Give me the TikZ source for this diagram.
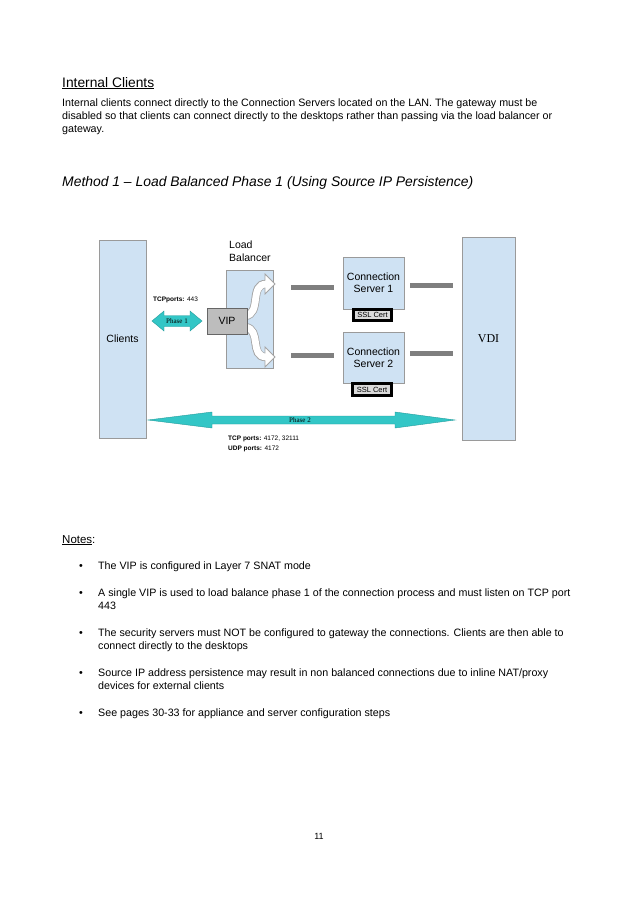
\documentclass[tikz,border=0pt]{standalone}
\usepackage{fontspec}
\setmainfont{Liberation Sans}
\newfontfamily\serifface{Liberation Serif}
\definecolor{boxblue}{HTML}{CFE2F3}
\definecolor{boxedge}{HTML}{9A9A9A}
\definecolor{vipgray}{HTML}{BDBDBD}
\definecolor{teal1}{HTML}{33C6C6}
\definecolor{teal2}{HTML}{239C9C}
\definecolor{bargray}{HTML}{7F7F7F}
\definecolor{sslgray}{HTML}{DADADA}
\tikzset{
  bluebox/.style={draw=boxedge, fill=boxblue, line width=0.8pt, inner sep=0pt},
  bodytext/.style={anchor=base west, inner sep=0pt, font=\fontsize{10.7}{13}\selectfont},
  bar/.style={draw=bargray, line width=5pt},
  sslbox/.style={draw=black, fill=sslgray, line width=2.2pt, inner sep=0pt, font=\fontsize{7.5}{8}\selectfont},
  tealarrow/.style={fill=teal1, draw=teal2, line width=0.4pt},
  band/.style={draw=bargray!70, line width=8.4pt},
  bandin/.style={draw=white, line width=6.8pt},
  bandhead/.style={fill=white, draw=bargray!70, line width=0.8pt, line join=miter},
}
\begin{document}
\begin{tikzpicture}[x=1pt,y=-1pt]
\useasboundingbox (0,0) rectangle (638,903);
\fill[white] (0,0) rectangle (638,903);

% Header text
\node[anchor=base west, inner sep=0pt, font=\fontsize{13.8}{15}\selectfont] (h1) at (62,87) {\underline{Internal Clients}};
\node[bodytext] (p1) at (62,106) {Internal clients connect directly to the Connection Servers located on the LAN. The gateway must be};
\node[bodytext] (p2) at (62,119) {disabled so that clients can connect directly to the desktops rather than passing via the load balancer or};
\node[bodytext] (p3) at (62,132) {gateway.};
\node[anchor=base west, inner sep=0pt, font=\fontsize{13.9}{15}\selectfont\itshape] (h2) at (62,186) {Method 1 -- Load Balanced Phase 1 (Using Source IP Persistence)};

% Diagram boxes
\node[bluebox, minimum width=47pt, minimum height=198pt, font=\fontsize{10.5}{12}\selectfont] (clients) at (122.5,339) {Clients};
\node[bluebox, minimum width=53pt, minimum height=203pt, font=\fontsize{12}{14}\selectfont\serifface] (vdi) at (488.5,338.5) {VDI};
\node[bluebox, minimum width=47pt, minimum height=98pt] (lb) at (250,319) {};
\node[anchor=north west, inner sep=0pt, align=left, font=\fontsize{10.5}{13}\selectfont] (lbl) at (229,241) {Load\\Balancer};

\node[bluebox, minimum width=61pt, minimum height=52pt, align=center, font=\fontsize{10.5}{12}\selectfont] (cs1) at (373.5,283) {Connection\\Server 1};
\node[bluebox, minimum width=61pt, minimum height=51pt, align=center, font=\fontsize{10.5}{12}\selectfont] (cs2) at (373.5,357.5) {Connection\\Server 2};
\node[sslbox, minimum width=38pt, minimum height=11pt] (ssl1) at (372.5,315) {SSL Cert};
\node[sslbox, minimum width=39pt, minimum height=12pt] (ssl2) at (372,389.5) {SSL Cert};

% Gray bars
\draw[bar] (291,287) -- (334,287);
\draw[bar] (291,355) -- (334,355);
\draw[bar] (410,285) -- (453,285);
\draw[bar] (410,353) -- (453,353);

% Curved band arrows in load balancer
\coordinate (ta) at (245,316);
\coordinate (te) at (266,284);
\coordinate (ba) at (245,327);
\coordinate (be) at (266,357);
\draw[band] (ta) .. controls (262,314) and (249,284) .. (te);
\draw[band] (ba) .. controls (262,329) and (249,357) .. (be);
\draw[bandhead] (265,274) -- (275,284) -- (265,294) -- cycle;
\draw[bandhead] (265,347) -- (275,357) -- (265,367) -- cycle;
\draw[bandin] (ta) .. controls (262,314) and (249,284) .. (266.5,284);
\draw[bandin] (ba) .. controls (262,329) and (249,357) .. (266.5,357);

% VIP
\node[draw=gray!80!black, fill=vipgray, line width=0.6pt, minimum width=40pt, minimum height=26pt, inner sep=0pt, font=\fontsize{10.5}{12}\selectfont] (vip) at (227,321) {VIP};

% Phase 1 arrow
\draw[tealarrow] (152,321) -- (164,311) -- (164,315.5) -- (190,315.5) -- (190,311) -- (202,321) -- (190,331) -- (190,326.5) -- (164,326.5) -- (164,331) -- cycle;
\node[inner sep=0pt, font=\fontsize{7}{8}\selectfont\serifface] (ph1) at (177,321) {Phase 1};
\node[anchor=base west, inner sep=0pt, font=\fontsize{6.5}{8}\selectfont] (tcp1) at (153,301) {\textbf{TCPports:} 443};

% Phase 2 arrow
\draw[tealarrow] (148,420) -- (212,412) -- (212,416) -- (395,416) -- (395,412) -- (455,420) -- (395,428) -- (395,424) -- (212,424) -- (212,428) -- cycle;
\node[inner sep=0pt, font=\fontsize{7}{8}\selectfont\serifface] (ph2) at (300,420) {Phase 2};
\node[anchor=base west, inner sep=0pt, font=\fontsize{6.5}{8}\selectfont] (tcp2) at (228,440) {\textbf{TCP ports:} 4172, 32111};
\node[anchor=base west, inner sep=0pt, font=\fontsize{6.5}{8}\selectfont] (udp2) at (228,450) {\textbf{UDP ports:} 4172};

% Notes
\node[anchor=base west, inner sep=0pt, font=\fontsize{11.5}{13}\selectfont] (notes) at (62,543) {\underline{Notes}:};
\foreach \yy/\name in {569/n1,596/n2,636/n3,676/n4,716/n5}{
  \node[anchor=base west, inner sep=0pt, font=\fontsize{10.7}{13}\selectfont] (\name b) at (79,\yy) {•};
}
\node[bodytext] (n1) at (98,569) {The VIP is configured in Layer 7 SNAT mode};
\node[bodytext] (n2) at (98,596) {A single VIP is used to load balance phase 1 of the connection process and must listen on TCP port};
\node[bodytext] (n2b) at (98,609) {443};
\node[bodytext] (n3) at (98,636) {The security servers must NOT be configured to gateway the connections. Clients are then able to};
\node[bodytext] (n3b) at (98,649) {connect directly to the desktops};
\node[bodytext] (n4) at (98,676) {Source IP address persistence may result in non balanced connections due to inline NAT/proxy};
\node[bodytext] (n4b) at (98,689) {devices for external clients};
\node[bodytext] (n5) at (98,716) {See pages 30-33 for appliance and server configuration steps};

\node[anchor=base, inner sep=0pt, font=\fontsize{9}{11}\selectfont] (pg) at (319,839) {11};
\end{tikzpicture}
\end{document}
